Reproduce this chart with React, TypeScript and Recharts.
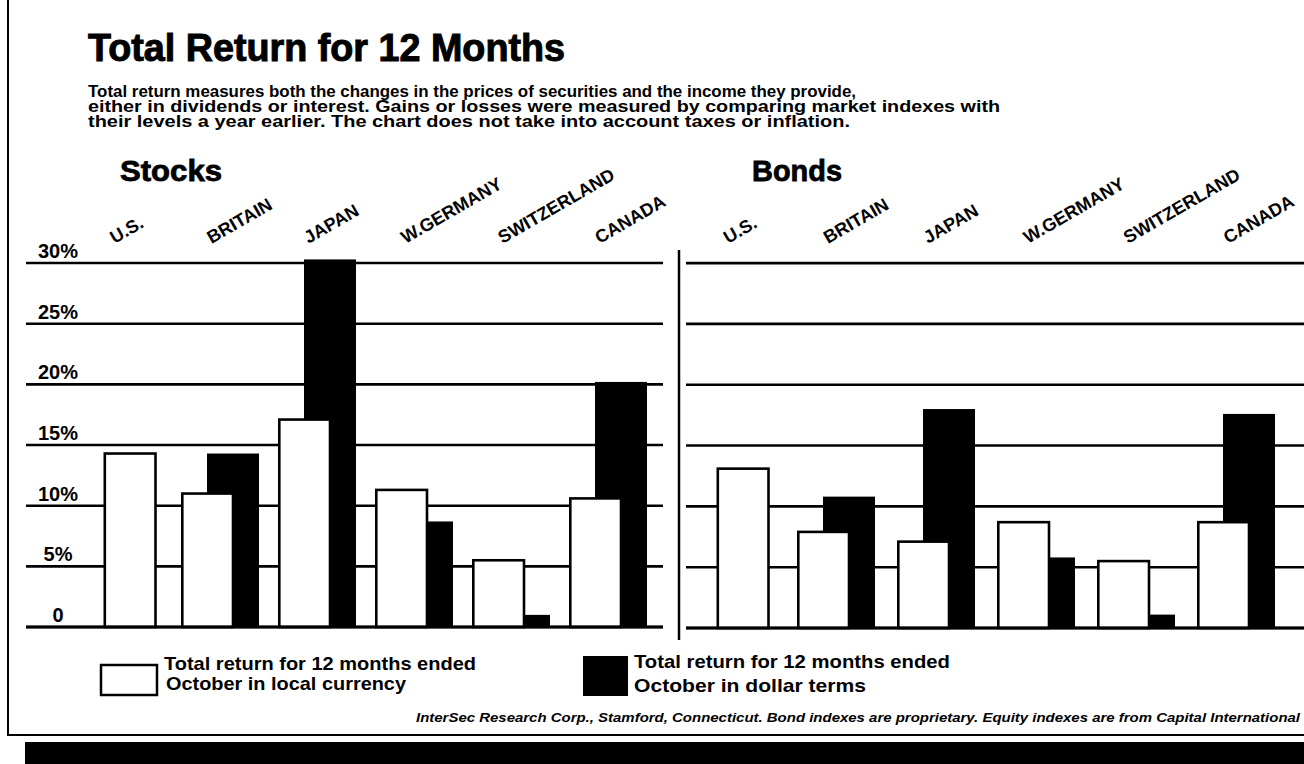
import React from 'react';
import {
  BarChart,
  Bar,
  XAxis,
  YAxis,
  CartesianGrid,
  ReferenceLine
} from 'recharts';

// countries, same order in both panels
const countries = ['U.S.', 'BRITAIN', 'JAPAN', 'W.GERMANY', 'SWITZERLAND', 'CANADA'];

// total return in local currency / in dollar terms (%), U.S. has only one bar
const stocksLocal = [14.3, 11.0, 17.1, 11.3, 5.5, 10.6];
const stocksDollar = [null, 14.3, 30.3, 8.7, 1.0, 20.2];
const bondsLocal = [13.1, 7.9, 7.1, 8.7, 5.5, 8.7];
const bondsDollar = [null, 10.8, 18.0, 5.8, 1.1, 17.6];

const yTicks = [0, 5, 10, 15, 20, 25, 30];

const FONT = "'Liberation Sans', Arial, Helvetica, sans-serif";
const BAR_W = 52;
const OVERLAP = 26;
const LINE = 2.6;

const buildRows = (local: (number | null)[], dollar: (number | null)[]) =>
  countries.map((name, i) => ({ name, local: local[i], dollar: dollar[i] }));

const stocksData = buildRows(stocksLocal, stocksDollar);
const bondsData = buildRows(bondsLocal, bondsDollar);

// white bar is drawn last (on top) but shifted into the left slot
const WhiteBar = (props: any) => {
  const { x, y, width, height, payload } = props;
  if (typeof x !== 'number' || typeof height !== 'number') return <g />;
  // a lone bar (U.S.) sits a little right of the group's left slot
  const dx = payload.dollar == null ? -OVERLAP / 4 : -OVERLAP;
  return (
    <rect
      x={x + dx + LINE / 2}
      y={y}
      width={width - LINE / 2}
      height={height}
      fill="#fff"
      stroke="#000"
      strokeWidth={LINE}
    />
  );
};

const BlackBar = (props: any) => {
  const { x, y, width, height, payload } = props;
  if (payload.dollar == null || typeof x !== 'number') return <g />;
  return <rect x={x + OVERLAP} y={y} width={width} height={height} fill="#000" />;
};

const CountryTick = (props: any) => {
  const { x, y, payload } = props;
  const tx = x - 8;
  const ty = y - 5;
  return (
    <text
      x={tx}
      y={ty}
      transform={`rotate(-30, ${tx}, ${ty})`}
      textAnchor="start"
      fontFamily={FONT}
      fontWeight="bold"
      fontSize={18}
      fill="#000"
    >
      {payload.value}
    </text>
  );
};

const PercentTick = (props: any) => {
  const { y, payload } = props;
  return (
    <text
      x={58}
      y={y - 12}
      textAnchor="middle"
      dominantBaseline="central"
      fontFamily={FONT}
      fontWeight="bold"
      fontSize={20}
      fill="#000"
    >
      {payload.value === 0 ? '0' : `${payload.value}%`}
    </text>
  );
};

const Panel = ({ data, showTicks, width, margin, padding }: any) => (
  <BarChart
    width={width}
    height={640}
    data={data}
    margin={margin}
    barSize={BAR_W}
    barGap={-OVERLAP}
  >
    <CartesianGrid vertical={false} syncWithTicks stroke="#000" strokeWidth={LINE} />
    <XAxis
      dataKey="name"
      orientation="top"
      height={30}
      axisLine={false}
      tickLine={false}
      interval={0}
      padding={padding}
      tick={<CountryTick />}
    />
    <YAxis
      type="number"
      domain={[0, 30.5]}
      ticks={yTicks}
      width={showTicks ? 26 : 0}
      hide={!showTicks}
      axisLine={false}
      tickLine={false}
      tick={<PercentTick />}
    />
    <ReferenceLine y={0} stroke="#000" strokeWidth={3} />
    <Bar dataKey="dollar" shape={<BlackBar />} isAnimationActive={false} />
    <Bar dataKey="local" shape={<WhiteBar />} isAnimationActive={false} />
  </BarChart>
);

const subtitle = [
  { text: 'Total return measures both the changes in the prices of securities and the income they provide,', w: 768 },
  { text: 'either in dividends or interest. Gains or losses were measured by comparing market indexes with', w: 912 },
  { text: 'their levels a year earlier. The chart does not take into account taxes or inflation.', w: 762 }
];

export default function App() {
  return (
    <div style={{ position: 'absolute', left: 0, top: 0, width: 1304, height: 764, background: '#fff', overflow: 'hidden' }}>
      <svg width={1304} height={764} style={{ position: 'absolute', left: 0, top: 0 }} fontFamily={FONT}>
        <text x={88} y={61} fontSize={38} fontWeight="bold" stroke="#000" strokeWidth={1} textLength={477} lengthAdjust="spacingAndGlyphs">
          Total Return for 12 Months
        </text>
        {subtitle.map((s, i) => (
          <text key={i} x={88} y={97 + i * 15} fontSize={16} fontWeight="bold" textLength={s.w} lengthAdjust="spacingAndGlyphs">
            {s.text}
          </text>
        ))}
        <text x={120} y={181} fontSize={30} fontWeight="bold" stroke="#000" strokeWidth={0.8} textLength={102} lengthAdjust="spacingAndGlyphs">Stocks</text>
        <text x={752} y={181} fontSize={30} fontWeight="bold" stroke="#000" strokeWidth={0.8} textLength={90} lengthAdjust="spacingAndGlyphs">Bonds</text>

        {/* panel separator and frame */}
        <line x1={679} y1={250} x2={679} y2={640} stroke="#000" strokeWidth={2.5} />
        <line x1={8} y1={0} x2={8} y2={736} stroke="#000" strokeWidth={2} />
        <line x1={8} y1={735} x2={1304} y2={735} stroke="#000" strokeWidth={2} />
        <rect x={25} y={742} width={1279} height={22} fill="#000" />

        {/* legend */}
        <rect x={101} y={665} width={56} height={30} fill="#fff" stroke="#000" strokeWidth={2.5} />
        <text x={164} y={670} fontSize={19} fontWeight="bold" textLength={312} lengthAdjust="spacingAndGlyphs">Total return for 12 months ended</text>
        <text x={166} y={690} fontSize={19} fontWeight="bold" textLength={240} lengthAdjust="spacingAndGlyphs">October in local currency</text>
        <rect x={583} y={656} width={45} height={40} fill="#000" />
        <text x={634} y={668} fontSize={19} fontWeight="bold" textLength={316} lengthAdjust="spacingAndGlyphs">Total return for 12 months ended</text>
        <text x={634} y={692} fontSize={19} fontWeight="bold" textLength={232} lengthAdjust="spacingAndGlyphs">October  in dollar terms</text>

        <text x={416} y={722} fontSize={13} fontWeight="bold" fontStyle="italic" textLength={884} lengthAdjust="spacingAndGlyphs">
          InterSec Research Corp., Stamford, Connecticut. Bond indexes are proprietary. Equity indexes are from Capital International
        </text>
      </svg>

      <div style={{ position: 'absolute', left: 0, top: 0 }}>
        <Panel
          data={stocksData}
          showTicks
          width={680}
          margin={{ top: 227, right: 17, bottom: 13, left: 0 }}
          padding={{ left: 48, right: 7 }}
        />
      </div>
      <div style={{ position: 'absolute', left: 680, top: 0 }}>
        <Panel
          data={bondsData}
          showTicks={false}
          width={624}
          margin={{ top: 227, right: 0, bottom: 12, left: 6 }}
          padding={{ left: 0, right: 18 }}
        />
      </div>
    </div>
  );
}
